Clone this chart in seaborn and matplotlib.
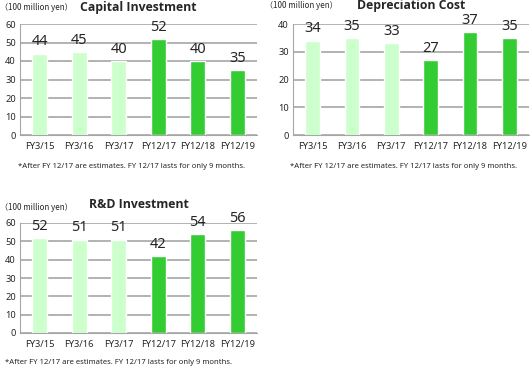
import pandas as pd
import matplotlib.pyplot as plt
import seaborn as sns

years = ['FY3/15', 'FY3/16', 'FY3/17', 'FY12/17', 'FY12/18', 'FY12/19']
capital = [44, 45, 40, 52, 40, 35]
depreciation = [34, 35, 33, 27, 37, 35]
rnd = [52, 51, 51, 42, 54, 56]

light_green = '#ccffcc'
dark_green = '#33cc33'
palette = [light_green] * 3 + [dark_green] * 3
note = '*After FY 12/17 are estimates. FY 12/17 lasts for only 9 months.'
unit = '（100 million yen）'

sns.set_style('white')
plt.rcParams['font.family'] = ['Noto Sans', 'DejaVu Sans']

fig = plt.figure(figsize=(5.3, 3.7), dpi=100)
W, H = 530, 370


def panel(rect, values, title, ymax, step, title_y, unit_xy, note_xy):
    x0, top, x1, bottom = rect
    ax = fig.add_axes([x0 / W, 1 - bottom / H, (x1 - x0) / W, (bottom - top) / H])
    df = pd.DataFrame({'Year': years, 'Value': values})
    sns.barplot(data=df, x='Year', y='Value', hue='Year', palette=palette,
                legend=False, width=0.38, ax=ax, saturation=1)
    ax.set_ylim(0, ymax)
    ax.set_xlim(-0.5, 5.5)
    ax.set_yticks(range(0, ymax + 1, step))
    ax.yaxis.grid(True, color='#a6a6a6', linewidth=1.2)
    ax.set_axisbelow(True)
    for s in ['top', 'right']:
        ax.spines[s].set_visible(False)
    for s in ['left', 'bottom']:
        ax.spines[s].set_color('#a6a6a6')
    ax.set_xlabel('')
    ax.set_ylabel('')
    ax.tick_params(axis='x', labelsize=6.7, length=0, pad=5)
    ax.tick_params(axis='y', labelsize=6.7, length=0, pad=3)
    # tick marks between categories
    ax.set_xticks([i - 0.5 for i in range(7)], minor=True)
    ax.tick_params(axis='x', which='minor', length=3, color='#a6a6a6', direction='out')
    for i, v in enumerate(values):
        ax.annotate(str(v), (i, v), xytext=(0, 3), textcoords='offset points',
                    ha='center', va='bottom', fontsize=10.5)
    fig.text((x0 + x1) / 2 / W, 1 - title_y / H, title, ha='center', va='center',
             fontsize=8.8, fontweight='bold', family=['Open Sans', 'DejaVu Sans'])
    fig.text(unit_xy[0] / W, 1 - unit_xy[1] / H, unit, ha='left', va='center',
             fontsize=5.8, family=['Noto Sans CJK JP', 'DejaVu Sans'])
    fig.text(note_xy[0] / W, 1 - note_xy[1] / H, note, ha='left', va='center',
             fontsize=5.5)
    return ax


panel((20, 24, 257, 135), capital, 'Capital Investment', 60, 10, 7, (0, 7), (18, 166))
panel((293, 24, 529, 135), depreciation, 'Depreciation Cost', 40, 10, 6, (265, 5), (290, 166))
panel((20, 223, 257, 333), rnd, 'R&D Investment', 60, 10, 204, (0, 208), (5, 363))

plt.savefig('out.png', dpi=100)
